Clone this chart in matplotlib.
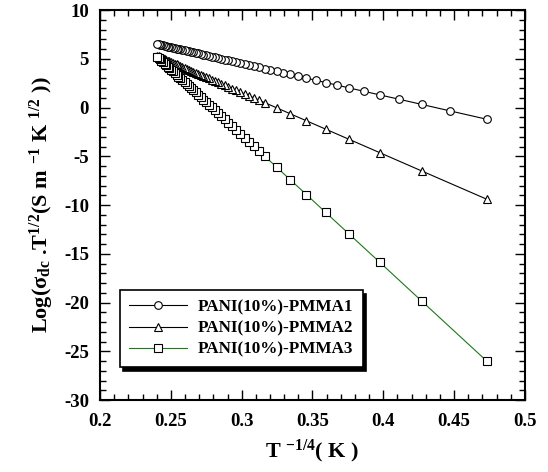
import matplotlib
matplotlib.use("Agg")
import matplotlib.pyplot as plt
from matplotlib.ticker import MultipleLocator

plt.rcParams['font.family'] = ['Liberation Serif', 'DejaVu Serif']
plt.rcParams['font.weight'] = 'bold'
plt.rcParams['mathtext.fontset'] = 'custom'
plt.rcParams['mathtext.rm'] = 'Liberation Serif:bold'
plt.rcParams['mathtext.it'] = 'Liberation Serif:bold'
plt.rcParams['mathtext.bf'] = 'Liberation Serif:bold'
plt.rcParams['axes.unicode_minus'] = False

# T^-1/4 values (K^-1/4) and log conductivity
x1 = [0.4729, 0.4472, 0.4273, 0.4111, 0.3976, 0.3861, 0.3761, 0.3672, 0.3593, 0.3522,
      0.3457, 0.3398, 0.3344, 0.3293, 0.3247, 0.3203, 0.3162, 0.3124, 0.3088, 0.3054,
      0.3021, 0.2991, 0.2962, 0.2934, 0.2907, 0.2882, 0.2857, 0.2834, 0.2812, 0.2790,
      0.2769, 0.2749, 0.2730, 0.2712, 0.2693, 0.2676, 0.2659, 0.2643, 0.2627, 0.2612,
      0.2597, 0.2582, 0.2568, 0.2554, 0.2541, 0.2528, 0.2515, 0.2502, 0.2490, 0.2479,
      0.2467, 0.2456, 0.2445, 0.2434, 0.2423, 0.2413, 0.2403]
y1 = [-1.20, -0.35, 0.31, 0.85, 1.29, 1.67, 2.00, 2.30, 2.56, 2.80,
      3.01, 3.21, 3.39, 3.55, 3.71, 3.85, 3.99, 4.11, 4.23, 4.35,
      4.45, 4.55, 4.65, 4.74, 4.83, 4.91, 5.00, 5.07, 5.15, 5.22,
      5.29, 5.35, 5.42, 5.48, 5.54, 5.60, 5.65, 5.71, 5.76, 5.81,
      5.86, 5.91, 5.95, 6.00, 6.04, 6.09, 6.13, 6.17, 6.21, 6.25,
      6.29, 6.32, 6.36, 6.40, 6.43, 6.47, 6.50]

x2 = [0.4729, 0.4273, 0.3976, 0.3761, 0.3593, 0.3457, 0.3344, 0.3247, 0.3162, 0.3124,
      0.3088, 0.3054, 0.3021, 0.2991, 0.2962, 0.2934, 0.2907, 0.2882, 0.2857, 0.2834,
      0.2812, 0.2790, 0.2769, 0.2749, 0.2730, 0.2712, 0.2693, 0.2676, 0.2659, 0.2643,
      0.2627, 0.2612, 0.2597, 0.2582, 0.2568, 0.2554, 0.2541, 0.2528, 0.2515, 0.2502,
      0.2490, 0.2479, 0.2467, 0.2456, 0.2445, 0.2434, 0.2423, 0.2413, 0.2403]
y2 = [-9.40, -6.52, -4.64, -3.28, -2.22, -1.36, -0.65, -0.03, 0.50, 0.74,
      0.97, 1.19, 1.39, 1.58, 1.77, 1.94, 2.11, 2.27, 2.43, 2.58,
      2.72, 2.85, 2.99, 3.11, 3.23, 3.35, 3.47, 3.57, 3.68, 3.78,
      3.88, 3.98, 4.07, 4.17, 4.26, 4.35, 4.43, 4.51, 4.59, 4.67,
      4.75, 4.82, 4.90, 4.97, 5.03, 5.10, 5.17, 5.24, 5.30]

x3 = list(x2)
y3 = [-25.99, -19.88, -15.89, -13.01, -10.76, -8.93, -7.42, -6.12, -4.98, -4.47,
      -3.99, -3.53, -3.09, -2.69, -2.30, -1.92, -1.56, -1.22, -0.89, -0.58,
      -0.28, 0.01, 0.29, 0.56, 0.82, 1.06, 1.31, 1.54, 1.77, 1.98,
      2.20, 2.40, 2.60, 2.80, 2.99, 3.17, 3.35, 3.52, 3.70, 3.87,
      4.03, 4.18, 4.34, 4.49, 4.64, 4.78, 4.93, 5.07, 5.20]

labels = ['PANI(10%)-PMMA1', 'PANI(10%)-PMMA2', 'PANI(10%)-PMMA3']

fig = plt.figure(figsize=(5.48, 4.72), dpi=100)
ax = fig.add_axes([0.1825, 0.1525, 0.7755, 0.8263])

ax.plot(x1, y1, color='black', lw=0.8, marker='o', ms=5.5, mfc='white',
        mec='black', mew=0.8, label=labels[0])
ax.plot(x2, y2, color='black', lw=0.8, marker='^', ms=5.5, mfc='white',
        mec='black', mew=0.8, label=labels[1])
ax.plot(x3, y3, color='#1a7a1a', lw=0.8, marker='s', ms=6, mfc='white',
        mec='black', mew=0.8, label=labels[2])

ax.set_xlim(0.2, 0.5)
ax.set_ylim(-30, 10)
ax.xaxis.set_major_locator(MultipleLocator(0.05))
ax.xaxis.set_minor_locator(MultipleLocator(0.01))
ax.yaxis.set_major_locator(MultipleLocator(5))
ax.yaxis.set_minor_locator(MultipleLocator(1))
ax.set_xticks([0.2, 0.25, 0.3, 0.35, 0.4, 0.45, 0.5])
ax.set_xticklabels(['0.2', '0.25', '0.3', '0.35', '0.4', '0.45', '0.5'])

ax.tick_params(which='both', direction='in', top=True, right=True,
               labelsize=13.5)
ax.tick_params(axis='x', pad=9)
ax.tick_params(axis='y', pad=8)
ax.tick_params(which='major', length=7, width=1)
ax.tick_params(which='minor', length=4, width=1)
for s in ax.spines.values():
    s.set_linewidth(1.5)

ax.set_xlabel(r'T $^{-1/4}$( K )', fontsize=16, fontweight='bold', labelpad=6)
ax.set_ylabel(r'Log(σ$_{\rm dc}$ .T$^{1/2}$(S m $^{-1}$ K $^{1/2}$ ))',
              fontsize=16, fontweight='bold', labelpad=6)

leg = ax.legend(loc='upper left', bbox_to_anchor=(0.047, 0.282), borderaxespad=0,
                fontsize=12.3, handlelength=3.4, frameon=True, fancybox=False,
                shadow={'color': 'black', 'alpha': 1, 'ox': 2.5, 'oy': -2.5},
                labelspacing=0.3, handletextpad=0.6, borderpad=0.55)
leg.get_frame().set_edgecolor('black')
leg.get_frame().set_linewidth(1.2)
leg.get_frame().set_alpha(1)

fig.savefig('out.png', dpi=100)
